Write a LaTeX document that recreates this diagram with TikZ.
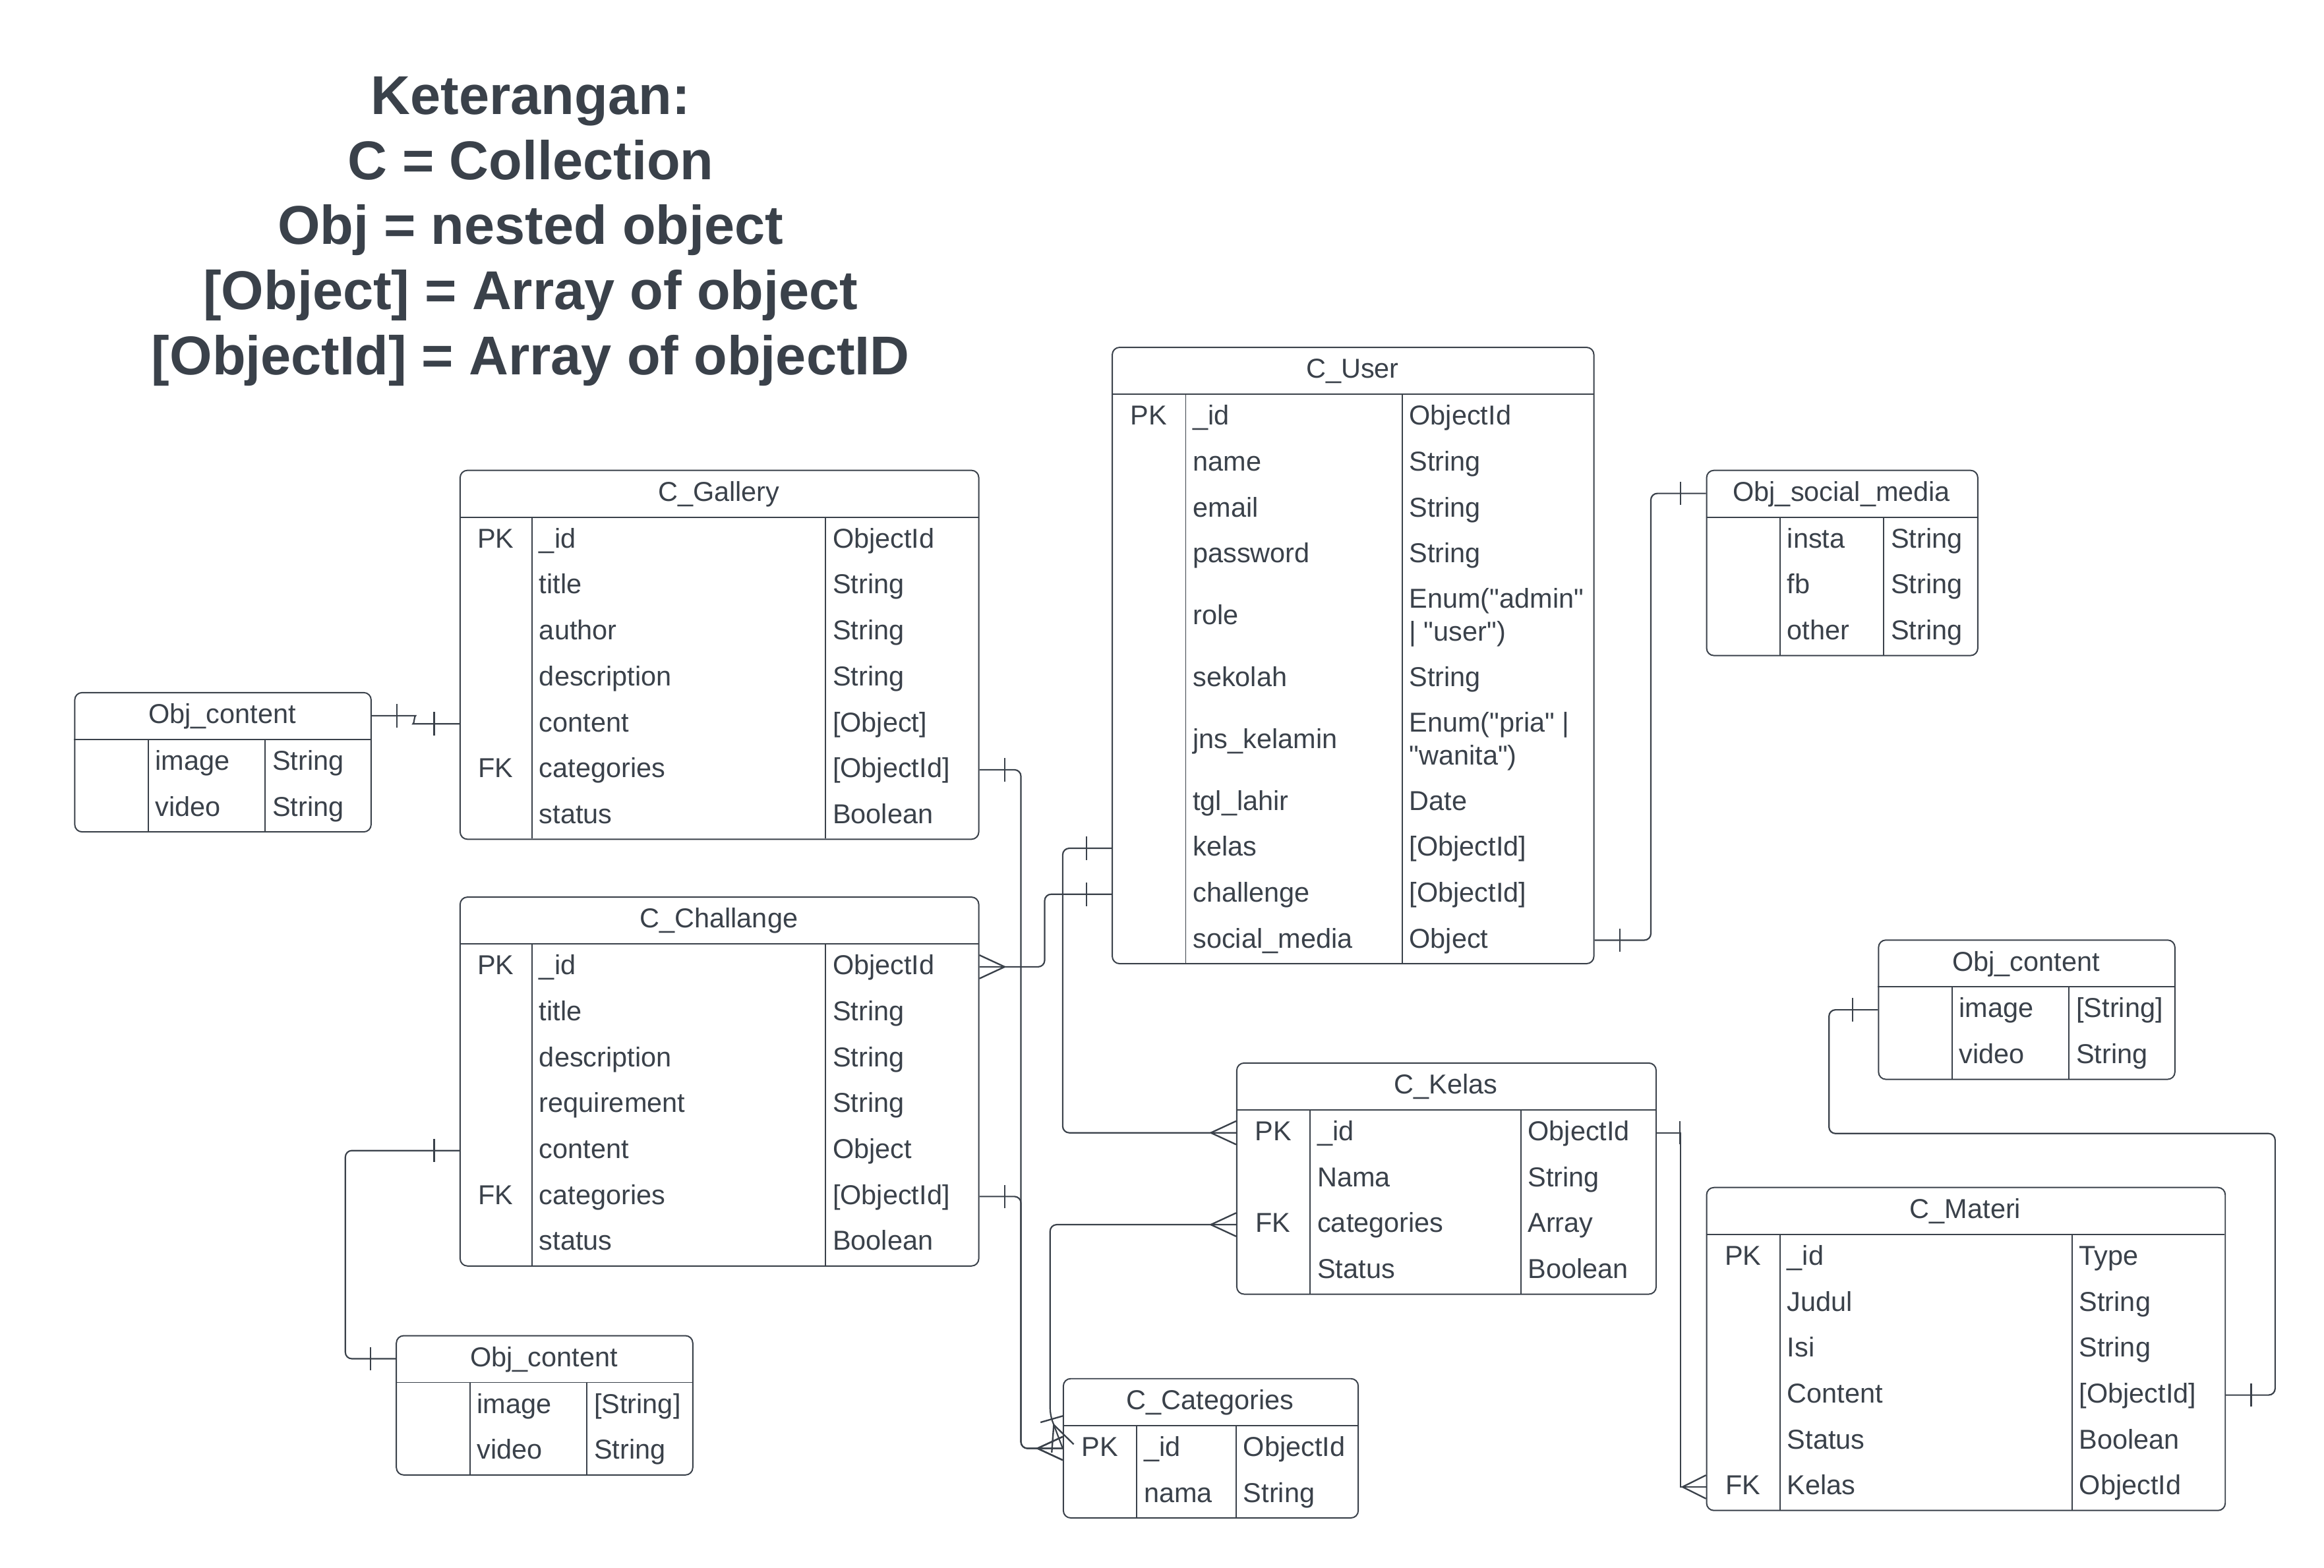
\documentclass[tikz,border=0pt]{standalone}
\usepackage{fontspec}
\setmainfont{Liberation Sans}[Ligatures=TeXOff]
\usepackage{tikz}
\usetikzlibrary{decorations.markings}
\definecolor{ink}{HTML}{3A414A}
\tikzset{
  tbl/.style={draw=ink, line width=0.5pt, rounded corners=2.8pt, inner sep=0pt, anchor=north west},
  rule/.style={draw=ink, line width=0.5pt},
  rel/.style={draw=ink, line width=0.55pt, rounded corners=2.5pt},
  tick/.style={draw=ink, line width=0.6pt, sharp corners},
  hdr/.style={text=ink, font=\fontsize{10.5}{12.5}\selectfont, inner sep=0pt, text height=8pt, text depth=2pt},
  cell/.style={hdr, anchor=west},
  legend/.style={text=ink, font=\bfseries\fontsize{21}{25}\selectfont, inner sep=0pt, anchor=base},
  one at start/.style={postaction={decorate, decoration={markings,
    mark=at position #1 with {\draw[tick] (0,-4.5pt) -- (0,4.5pt);}}}},
  one at start/.default=9.7pt,
  one at end/.style={postaction={decorate, decoration={markings,
    mark=at position -#1 with {\draw[tick] (0,-4.5pt) -- (0,4.5pt);}}}},
  one at end/.default=9.7pt,
  many at start/.style={postaction={decorate, decoration={markings,
    mark=at position #1 with {\draw[tick] (-#1,-4.5pt) -- (0,0) -- (-#1,4.5pt);}}}},
  many at start/.default=9.7pt,
  many at end/.style={postaction={decorate, decoration={markings,
    mark=at position -#1 with {\draw[tick] (#1,-4.5pt) -- (0,0) -- (#1,4.5pt);}}}},
  many at end/.default=9.7pt,
}
\begin{document}
\begin{tikzpicture}[x=0.02cm, y=-0.02cm]
  \path[use as bounding box, fill=white] (0,0) rectangle (1568,1058);

  \foreach \s [count=\i, evaluate=\i as \y using 33+44*\i] in {Keterangan:, C = Collection, Obj = nested object, {[Object] = Array of object}, {[ObjectId] = Array of objectID}}
    \node[legend] (legend\i) at (358,\y) {\s};

  \node[tbl, minimum width=4cm, minimum height=1.88cm] (objc1) at (50,467) {};
  \node[hdr] (objc1-h) at (150,483) {Obj\_content};
  \draw[rule] (50,499) -- (250,499) (100,499) -- (100,561) (179,499) -- (179,561);
  \foreach \f/\t [count=\i, evaluate=\i as \y using 483.5+31*\i] in {image/String, video/String}{
    \node[cell] (objc1-f\i) at (104.5,\y) {\f};
    \node[cell] (objc1-t\i) at (183.5,\y) {\t};
  }

  \node[tbl, minimum width=7cm, minimum height=4.98cm] (gallery) at (310,317) {};
  \node[hdr] (gallery-h) at (485,333) {C\_Gallery};
  \draw[rule] (310,349) -- (660,349) (359,349) -- (359,566) (557,349) -- (557,566);
  \foreach \k/\f/\t [count=\i, evaluate=\i as \y using 333.5+31*\i] in {PK/\_id/ObjectId, /title/String, /author/String, /description/String, /content/[Object], FK/categories/[ObjectId], /status/Boolean}{
    \node[hdr] (gallery-k\i) at (334.5,\y) {\k};
    \node[cell] (gallery-f\i) at (363.5,\y) {\f};
    \node[cell] (gallery-t\i) at (561.5,\y) {\t};
  }

  \node[tbl, minimum width=7cm, minimum height=4.98cm] (chal) at (310,605) {};
  \node[hdr] (chal-h) at (485,621) {C\_Challange};
  \draw[rule] (310,637) -- (660,637) (359,637) -- (359,854) (557,637) -- (557,854);
  \foreach \k/\f/\t [count=\i, evaluate=\i as \y using 621.5+31*\i] in {PK/\_id/ObjectId, /title/String, /description/String, /requirement/String, /content/Object, FK/categories/[ObjectId], /status/Boolean}{
    \node[hdr] (chal-k\i) at (334.5,\y) {\k};
    \node[cell] (chal-f\i) at (363.5,\y) {\f};
    \node[cell] (chal-t\i) at (561.5,\y) {\t};
  }

  \node[tbl, minimum width=4cm, minimum height=1.88cm] (objc2) at (267,901) {};
  \node[hdr] (objc2-h) at (367,917) {Obj\_content};
  \draw[rule] (267,933) -- (467,933) (317,933) -- (317,995) (396,933) -- (396,995);
  \foreach \f/\t [count=\i, evaluate=\i as \y using 917.5+31*\i] in {image/[String], video/String}{
    \node[cell] (objc2-f\i) at (321.5,\y) {\f};
    \node[cell] (objc2-t\i) at (400.5,\y) {\t};
  }

  \node[tbl, minimum width=6.5cm, minimum height=8.32cm] (user) at (750,234) {};
  \node[hdr] (user-h) at (912.5,250) {C\_User};
  \draw[rule] (750,266) -- (1075,266) (800,266) -- (800,650) (946,266) -- (946,650);
  \foreach \y/\k/\f/\t [count=\i] in {281.5/PK/\_id/ObjectId, 312.5//name/String, 343.5//email/String, 374.5//password/String, 416.25//role/, 458//sekolah/String, 499.75//jns\_kelamin/, 541.5//tgl\_lahir/Date, 572.5//kelas/[ObjectId], 603.5//challenge/[ObjectId], 634.5//social\_media/Object}{
    \node[hdr] (user-k\i) at (775,\y) {\k};
    \node[cell] (user-f\i) at (804.5,\y) {\f};
    \node[cell] (user-t\i) at (950.5,\y) {\t};
  }
  \node[cell] (user-t5a) at (950.5,405.25) {Enum("admin"};
  \node[cell] (user-t5b) at (950.5,427.25) {| "user")};
  \node[cell] (user-t7a) at (950.5,488.75) {Enum("pria" |};
  \node[cell] (user-t7b) at (950.5,510.75) {"wanita")};

  \node[tbl, minimum width=3.66cm, minimum height=2.5cm] (social) at (1151,317) {};
  \node[hdr] (social-h) at (1242.5,333) {Obj\_social\_media};
  \draw[rule] (1151,349) -- (1334,349) (1201,349) -- (1201,442) (1271,349) -- (1271,442);
  \foreach \f/\t [count=\i, evaluate=\i as \y using 333.5+31*\i] in {insta/String, fb/String, other/String}{
    \node[cell] (social-f\i) at (1205.5,\y) {\f};
    \node[cell] (social-t\i) at (1275.5,\y) {\t};
  }

  \node[tbl, minimum width=4cm, minimum height=1.88cm] (objc3) at (1267,634) {};
  \node[hdr] (objc3-h) at (1367,650) {Obj\_content};
  \draw[rule] (1267,666) -- (1467,666) (1317,666) -- (1317,728) (1396,666) -- (1396,728);
  \foreach \f/\t [count=\i, evaluate=\i as \y using 650.5+31*\i] in {image/[String], video/String}{
    \node[cell] (objc3-f\i) at (1321.5,\y) {\f};
    \node[cell] (objc3-t\i) at (1400.5,\y) {\t};
  }

  \node[tbl, minimum width=5.66cm, minimum height=3.12cm] (kelas) at (834,717) {};
  \node[hdr] (kelas-h) at (975.5,733) {C\_Kelas};
  \draw[rule] (834,749) -- (1117,749) (884,749) -- (884,873) (1026,749) -- (1026,873);
  \foreach \k/\f/\t [count=\i, evaluate=\i as \y using 733.5+31*\i] in {PK/\_id/ObjectId, /Nama/String, FK/categories/Array, /Status/Boolean}{
    \node[hdr] (kelas-k\i) at (859,\y) {\k};
    \node[cell] (kelas-f\i) at (888.5,\y) {\f};
    \node[cell] (kelas-t\i) at (1030.5,\y) {\t};
  }

  \node[tbl, minimum width=3.98cm, minimum height=1.88cm] (cat) at (717,930) {};
  \node[hdr] (cat-h) at (816.5,946) {C\_Categories};
  \draw[rule] (717,962) -- (916,962) (767,962) -- (767,1024) (834,962) -- (834,1024);
  \foreach \k/\f/\t [count=\i, evaluate=\i as \y using 946.5+31*\i] in {PK/\_id/ObjectId, /nama/String}{
    \node[hdr] (cat-k\i) at (742,\y) {\k};
    \node[cell] (cat-f\i) at (771.5,\y) {\f};
    \node[cell] (cat-t\i) at (838.5,\y) {\t};
  }

  \node[tbl, minimum width=7cm, minimum height=4.36cm] (materi) at (1151,801) {};
  \node[hdr] (materi-h) at (1326,817) {C\_Materi};
  \draw[rule] (1151,833) -- (1501,833) (1201,833) -- (1201,1019) (1398,833) -- (1398,1019);
  \foreach \k/\f/\t [count=\i, evaluate=\i as \y using 817.5+31*\i] in {PK/\_id/Type, /Judul/String, /Isi/String, /Content/[ObjectId], /Status/Boolean, FK/Kelas/ObjectId}{
    \node[hdr] (materi-k\i) at (1176,\y) {\k};
    \node[cell] (materi-f\i) at (1205.5,\y) {\f};
    \node[cell] (materi-t\i) at (1402.5,\y) {\t};
  }

  \draw[rel, one at start, one at end] (objc1.east |- objc1-h) -- (276,483) to[out=0, in=180] (283,488.5) -- (gallery.west |- gallery-f5);
  \draw[rel, one at start, many at end] (gallery.east |- gallery-f6) -- ++(28,0) |- (cat.west |- cat-f1);
  \draw[rel, one at start, many at end] (chal.east |- chal-f6) -- ++(28,0) |- (cat.west |- cat-f1);
  \draw[rel, many at start, one at end] (chal.east |- chal-f1) -- ++(44,0) |- (user.west |- user-f10);
  \draw[rel, one at start, many at end] (user.west |- user-f9) -- ++(-33,0) |- (kelas.west |- kelas-f1);
  \draw[rel, many at start, many at end, one at end=12pt] (kelas.west |- kelas-f3) -| (708.5,955) -- (cat.west |- cat-f1);
  \draw[rel, one at start, one at end] (user.east |- user-f11) -- ++(38,0) |- (social.west |- social-h);
  \draw[rel, sharp corners, one at start=8.8pt, many at end=9pt] (kelas.east |- kelas-f1) -- ++(16,0) |- (materi.west |- materi-f6);
  \draw[rel, one at start, one at end] (materi.east |- materi-f4) -| (1535,765) -- (1234,765) |- (objc3.west |- objc3-f1);
  \draw[rel, one at start, one at end] (chal.west |- chal-f5) -- ++(-77,0) |- (objc2.west |- objc2-h);
\end{tikzpicture}
\end{document}
